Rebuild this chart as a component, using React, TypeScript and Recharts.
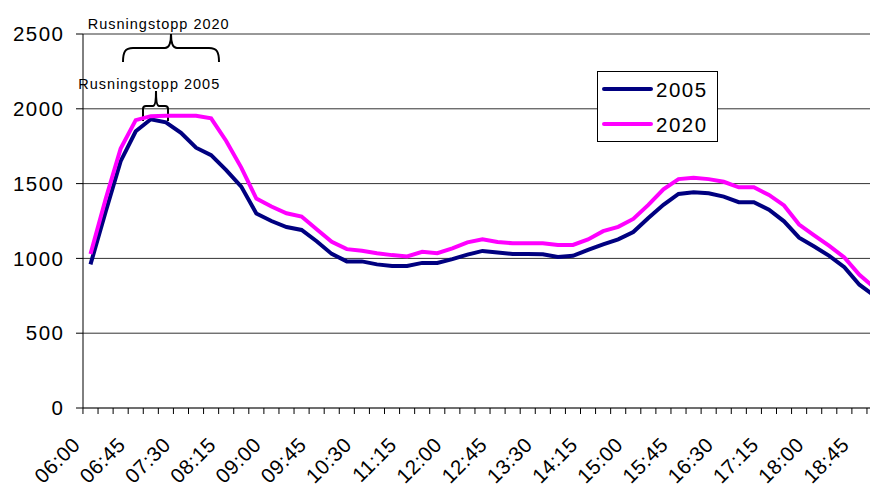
import React from 'react';
import { LineChart, Line, XAxis, YAxis, CartesianGrid, Legend, Customized } from 'recharts';

const times = [
  '06:00', '06:15', '06:30', '06:45', '07:00', '07:15', '07:30', '07:45',
  '08:00', '08:15', '08:30', '08:45', '09:00', '09:15', '09:30', '09:45',
  '10:00', '10:15', '10:30', '10:45', '11:00', '11:15', '11:30', '11:45',
  '12:00', '12:15', '12:30', '12:45', '13:00', '13:15', '13:30', '13:45',
  '14:00', '14:15', '14:30', '14:45', '15:00', '15:15', '15:30', '15:45',
  '16:00', '16:15', '16:30', '16:45', '17:00', '17:15', '17:30', '17:45',
  '18:00', '18:15', '18:30', '18:45', '19:00',
];

const tickLabels = [
  '06:00', '06:45', '07:30', '08:15', '09:00', '09:45', '10:30', '11:15', '12:00',
  '12:45', '13:30', '14:15', '15:00', '15:45', '16:30', '17:15', '18:00', '18:45',
];

const yTicks = [0, 500, 1000, 1500, 2000, 2500];

const values2005 = [
  960, 1310, 1650, 1850, 1930, 1910, 1840, 1740, 1690, 1590, 1480, 1300, 1250,
  1210, 1190, 1115, 1030, 980, 980, 960, 950, 950, 970, 970, 995, 1025, 1050,
  1040, 1030, 1030, 1028, 1010, 1017, 1057, 1094, 1127, 1176, 1270, 1358, 1431,
  1442, 1435, 1413, 1376, 1376, 1325, 1248, 1139, 1079, 1017, 941, 824, 750,
];

const values2020 = [
  1030, 1395, 1734, 1924, 1951, 1953, 1953, 1953, 1936, 1785, 1607, 1400, 1347,
  1302, 1280, 1195, 1111, 1062, 1051, 1035, 1022, 1013, 1044, 1035, 1067, 1107, 1128,
  1110, 1101, 1101, 1101, 1090, 1090, 1127, 1182, 1211, 1264, 1358, 1462, 1530,
  1539, 1530, 1512, 1475, 1475, 1424, 1354, 1226, 1154, 1083, 1007, 890, 805,
];

const data = times.map((t, i) => ({ time: t, y2005: values2005[i], y2020: values2020[i] }));

const FONT = '"Liberation Sans", Arial, sans-serif';
const NAVY = '#000080';
const MAGENTA = '#FF00FF';
// half of one category step (plot is 799px wide, 7.5px padding each side, 52 steps)
const HALF = 784 / 52 / 2;

const XTick = (props: any) => {
  const { x, y, payload } = props;
  const label = payload.value;
  const lx = x - 9;
  const ly = y + 38;
  return (
    <g>
      <line x1={x - HALF} x2={x - HALF} y1={y} y2={y + 6} stroke="#000" strokeWidth={1} />
      {tickLabels.includes(label) && (
        <text
          x={lx}
          y={ly}
          transform={`rotate(-45 ${lx} ${ly})`}
          textAnchor="end"
          fontSize={20.5}
          letterSpacing={0.6}
          fontFamily={FONT}
          fill="#000"
        >
          {label}
        </text>
      )}
    </g>
  );
};

const LegendBox = (props: any) => {
  const items = props.payload || [];
  return (
    <svg width={121} height={71} style={{ display: 'block', overflow: 'visible' }}>
      <rect x={0.5} y={0.5} width={120} height={70} fill="#fff" stroke="#000" strokeWidth={1} />
      {items.map((it: any, i: number) => (
        <g key={it.value}>
          <line x1={7} x2={54} y1={18 + i * 35} y2={18 + i * 35} stroke={it.color} strokeWidth={4} strokeLinecap="round" />
          <text x={59} y={26.3 + i * 35} fontSize={20.5} letterSpacing={1.5} fontFamily={FONT} fill="#000">
            {it.value}
          </text>
        </g>
      ))}
    </svg>
  );
};

// annotation braces for rush-hour peaks
const Annotations = () => (
  <g fontFamily={FONT} fill="#000">
    <rect x={76} y={65} width={150} height={35} fill="#fff" />
    <text x={87.7} y={29.3} fontSize={14.5} letterSpacing={1}>Rusningstopp 2020</text>
    <text x={78.3} y={89.3} fontSize={14.5} letterSpacing={1}>Rusningstopp 2005</text>
    <path
      d="M123,62 C123,52 125,48 133,48 L165,48 C169,48 171,44 171,34 C171,44 173,48 177,48 L209,48 C217,48 219,52 219,62"
      fill="none"
      stroke="#000"
      strokeWidth={2}
    />
    <path
      d="M143,121 L143,109 Q143,106 146,106 L153,106 Q156,106 156,91 Q156,106 159,106 L165,106 Q168,106 168,109 L168,121"
      fill="none"
      stroke="#000"
      strokeWidth={2}
    />
  </g>
);

export default function App() {
  return (
    <div style={{ position: 'fixed', left: 0, top: 0, width: 870, height: 486, overflow: 'hidden', background: '#fff' }}>
      <LineChart
        width={890}
        height={486}
        data={data}
        margin={{ top: 34, right: 8, bottom: 0, left: 0 }}
        style={{ fontFamily: FONT }}
      >
        <CartesianGrid vertical={false} stroke="#333" strokeWidth={1} />
        <XAxis
          dataKey="time"
          interval={0}
          height={78}
          padding={{ left: 7.5, right: 7.5 }}
          tickSize={0}
          tickMargin={0}
          tickLine={false}
          axisLine={{ stroke: '#444', strokeWidth: 1 }}
          tick={<XTick />}
        />
        <YAxis
          width={83}
          domain={[0, 2500]}
          ticks={yTicks}
          interval={0}
          tickSize={7}
          tickMargin={11.5}
          tickLine={{ stroke: '#000' }}
          axisLine={{ stroke: '#000' }}
          tick={{ fontSize: 20.5, fill: '#000', letterSpacing: 1.5, fontFamily: FONT }}
        />
        <Legend
          layout="horizontal"
          verticalAlign="middle"
          align="center"
          content={<LegendBox />}
          wrapperStyle={{ position: 'absolute', left: 597, top: 71, width: 121, height: 71 }}
        />
        <Line type="linear" dataKey="y2005" name="2005" stroke={NAVY} strokeWidth={4} dot={false} isAnimationActive={false} />
        <Line type="linear" dataKey="y2020" name="2020" stroke={MAGENTA} strokeWidth={4} dot={false} isAnimationActive={false} />
        <Customized component={Annotations} />
      </LineChart>
    </div>
  );
}
